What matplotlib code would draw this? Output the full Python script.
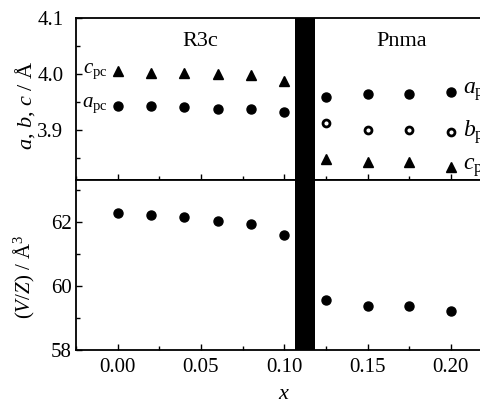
import matplotlib
matplotlib.use("Agg")
import matplotlib.pyplot as plt
from matplotlib.ticker import MultipleLocator

plt.rcParams['font.family'] = ['Liberation Serif', 'DejaVu Serif']
plt.rcParams['mathtext.fontset'] = 'custom'
plt.rcParams['mathtext.rm'] = 'Liberation Serif'
plt.rcParams['mathtext.it'] = 'Liberation Serif:italic'
plt.rcParams['font.size'] = 15

# R3c phase (rhombohedral), pseudo-cubic lattice parameters
x_r3c = [0.00, 0.02, 0.04, 0.06, 0.08, 0.10]
a_r3c = [3.943, 3.942, 3.940, 3.937, 3.937, 3.931]
c_r3c = [4.005, 4.002, 4.002, 4.000, 3.998, 3.986]
v_r3c = [62.26, 62.21, 62.16, 62.02, 61.94, 61.58]

# Pnma phase (orthorhombic)
x_pnma = [0.125, 0.15, 0.175, 0.20]
a_pnma = [3.959, 3.964, 3.964, 3.968]
b_pnma = [3.911, 3.900, 3.900, 3.895]
c_pnma = [3.848, 3.842, 3.842, 3.833]
v_pnma = [59.56, 59.36, 59.35, 59.20]

# two-phase region
gap = (0.1065, 0.1185)

fig = plt.figure(figsize=(4.81, 4.01), dpi=100)
ax1 = fig.add_axes([0.158, 0.551, 0.866, 0.405])
ax2 = fig.add_axes([0.158, 0.128, 0.866, 0.423], sharex=ax1)

ms = 6.5
ax1.plot(x_r3c, c_r3c, '^', color='black', ms=ms + 0.5)
ax1.plot(x_r3c, a_r3c, 'o', color='black', ms=ms)
ax1.plot(x_pnma, a_pnma, 'o', color='black', ms=ms)
ax1.plot(x_pnma, b_pnma, 'o', mfc='white', mec='black', mew=2, ms=ms - 1.5)
ax1.plot(x_pnma, c_pnma, '^', color='black', ms=ms + 0.5)

ax2.plot(x_r3c, v_r3c, 'o', color='black', ms=ms)
ax2.plot(x_pnma, v_pnma, 'o', color='black', ms=ms)

for ax in (ax1, ax2):
    ax.axvspan(*gap, color='black', lw=0)
    ax.tick_params(direction='in', which='both', top=False, right=False,
                   length=4, width=1)
    ax.tick_params(which='minor', length=3)
    for s in ax.spines.values():
        s.set_linewidth(1.3)

ax1.set_xlim(-0.025, 0.225)
ax1.xaxis.set_major_locator(MultipleLocator(0.05))
ax1.xaxis.set_minor_locator(MultipleLocator(0.025))
ax1.tick_params(labelbottom=False)

ax1.set_ylim(3.81, 4.1)
ax1.set_yticks([3.9, 4.0, 4.1])
ax1.yaxis.set_minor_locator(MultipleLocator(0.05))
ax1.tick_params(axis='y', which='major', pad=9)
ax1.set_ylabel(r'$a$, $b$, $c$ / $\rm\AA$', fontsize=16)

ax2.set_ylim(58, 63.3)
ax2.set_yticks([58, 60, 62])
ax2.yaxis.set_minor_locator(MultipleLocator(1))
ax2.tick_params(axis='y', which='major', pad=3)
ax2.set_xticks([0.00, 0.05, 0.10, 0.15, 0.20])
ax2.set_xticklabels(['0.00', '0.05', '0.10', '0.15', '0.20'])
ax2.tick_params(axis='x', pad=6)
ax2.set_ylabel(r'$(V/Z)$ / $\rm\AA^3$', fontsize=15)
ax2.set_xlabel(r'$x$', fontsize=16, labelpad=6)

ax1.yaxis.set_label_coords(-0.094, 0.46)
ax2.yaxis.set_label_coords(-0.094, 0.43)

ax1.text(0.0495, 4.057, 'R3c', ha='center', va='center', fontsize=16)
ax1.text(0.1705, 4.057, 'Pnma', ha='center', va='center', fontsize=16)

ax1.text(-0.006, c_r3c[0], r'$c_{\rm pc}$', ha='right', va='center', fontsize=15)
ax1.text(-0.006, a_r3c[0], r'$a_{\rm pc}$', ha='right', va='center', fontsize=15)
ax1.text(0.207, a_pnma[-1], r'$a_{\rm pc}$', ha='left', va='center', fontsize=17)
ax1.text(0.207, b_pnma[-1], r'$b_{\rm pc}$', ha='left', va='center', fontsize=17)
ax1.text(0.207, c_pnma[-1], r'$c_{\rm pc}$', ha='left', va='center', fontsize=17)

fig.savefig('out.png', dpi=100)
